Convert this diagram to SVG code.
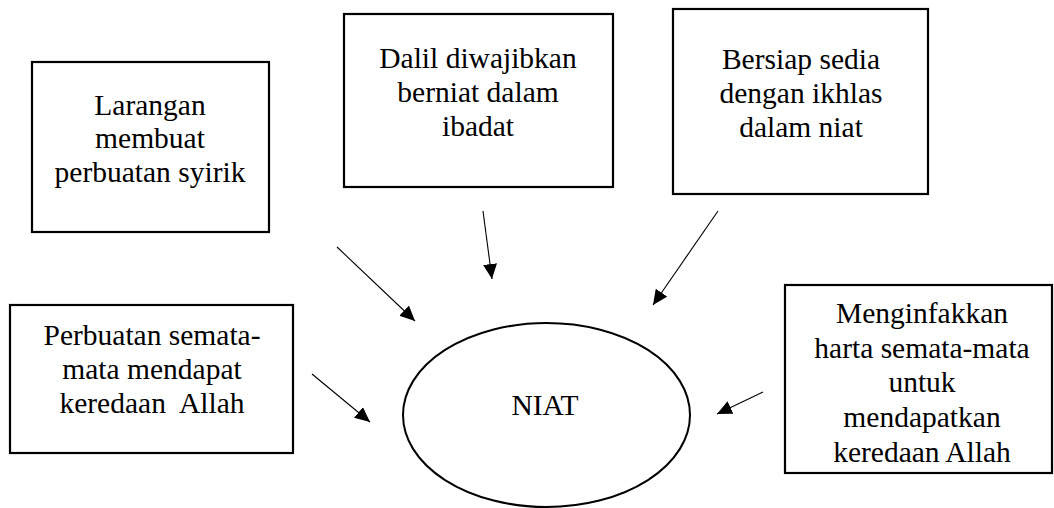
<svg xmlns="http://www.w3.org/2000/svg" width="1054" height="508" viewBox="0 0 1054 508">
<style>
.box{fill:#fff;stroke:#000;stroke-width:2.2}
.ell{fill:#fff;stroke:#000;stroke-width:2}
text{font-family:'Liberation Serif', 'Times New Roman', Times, serif;font-size:29.5px;fill:#000;text-anchor:middle;white-space:pre}
.c{stroke:#000;stroke-width:1.1;fill:none;marker-end:url(#ah)}
</style>
<defs>
<marker id="ah" markerUnits="userSpaceOnUse" markerWidth="15" markerHeight="14" viewBox="0 0 15 14" refX="15" refY="7" orient="auto">
<path d="M0,0 L15,7 L0,14 z" fill="#000"/>
</marker>
</defs>
<rect width="1054" height="508" fill="#fff"/>
<g id="n1">
<rect class="box" x="32" y="62" width="237" height="170"/>
<text x="150" y="115">Larangan</text>
<text x="150" y="148">membuat</text>
<text x="150" y="182">perbuatan syirik</text>
</g>
<g id="n2">
<rect class="box" x="344" y="14" width="269" height="173"/>
<text x="478" y="68">Dalil diwajibkan</text>
<text x="478" y="102">berniat dalam</text>
<text x="478" y="136">ibadat</text>
</g>
<g id="n3">
<rect class="box" x="673" y="9" width="255" height="185"/>
<text x="801" y="69">Bersiap sedia</text>
<text x="801" y="103">dengan ikhlas</text>
<text x="801" y="137">dalam niat</text>
</g>
<g id="n4">
<rect class="box" x="10" y="305" width="283" height="148"/>
<text x="152" y="345">Perbuatan semata-</text>
<text x="152" y="379">mata mendapat</text>
<text x="152" y="413">keredaan  Allah</text>
</g>
<g id="n5">
<rect class="box" x="785" y="285" width="267" height="188"/>
<text x="922" y="323">Menginfakkan</text>
<text x="922" y="358">harta semata-mata</text>
<text x="922" y="392">untuk</text>
<text x="922" y="427">mendapatkan</text>
<text x="922" y="462">keredaan Allah</text>
</g>
<g id="niat">
<ellipse class="ell" cx="546.5" cy="415" rx="143.5" ry="92"/>
<text x="545" y="415">NIAT</text>
</g>
<g id="connectors">
<line class="c" x1="337" y1="247" x2="415" y2="321"/>
<line class="c" x1="483" y1="211" x2="492" y2="279"/>
<line class="c" x1="718" y1="211" x2="653" y2="305"/>
<line class="c" x1="312" y1="374" x2="370" y2="422"/>
<line class="c" x1="763" y1="392" x2="717" y2="414"/>
</g>
</svg>
